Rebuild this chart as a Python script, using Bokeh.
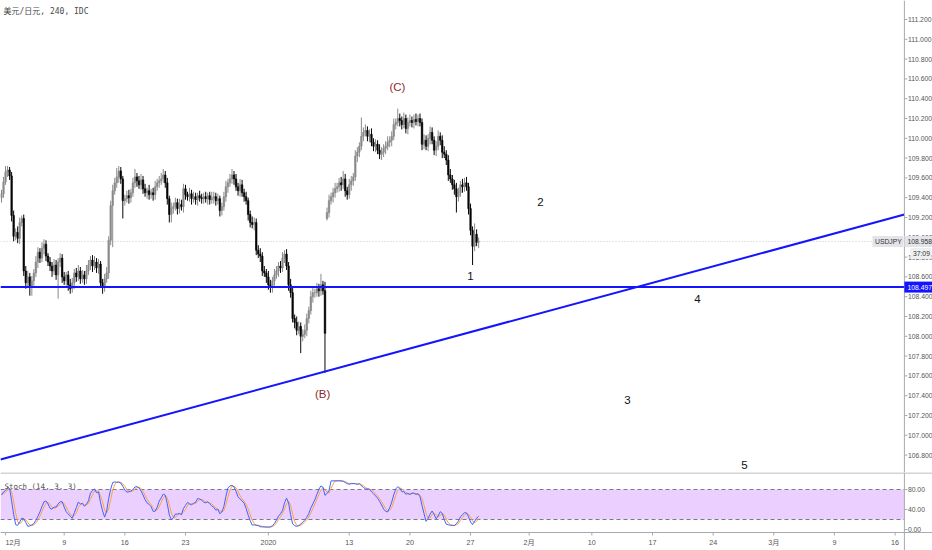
import pandas as pd
from bokeh.plotting import figure
from bokeh.models import Range1d, ColumnDataSource
from bokeh.layouts import column
from bokeh.core.properties import value
from bokeh.embed import file_html
from bokeh.resources import INLINE

# ---------------- data (USDJPY, 4h bars) ----------------
closes = [
    109.44, 109.56, 109.66, 109.68, 109.62, 109.22, 109.01, 109.05, 108.99, 109.15,
    109.19, 108.66, 108.54, 108.60, 108.50, 108.56, 108.64, 108.75, 108.85, 108.79,
    108.89, 108.93, 108.81, 108.75, 108.71, 108.66, 108.72, 108.62, 108.75, 108.79,
    108.60, 108.56, 108.62, 108.52, 108.48, 108.54, 108.64, 108.60, 108.66, 108.58,
    108.62, 108.58, 108.66, 108.72, 108.77, 108.71, 108.75, 108.69, 108.73, 108.54,
    108.50, 108.58, 108.64, 108.97, 109.32, 109.47, 109.55, 109.61, 109.67, 109.59,
    109.37, 109.39, 109.42, 109.40, 109.45, 109.55, 109.61, 109.57, 109.53, 109.58,
    109.49, 109.45, 109.47, 109.43, 109.45, 109.43, 109.51, 109.55, 109.57, 109.59,
    109.63, 109.55, 109.39, 109.23, 109.29, 109.31, 109.35, 109.29, 109.33, 109.31,
    109.49, 109.43, 109.41, 109.44, 109.39, 109.41, 109.38, 109.42, 109.40, 109.39,
    109.41, 109.39, 109.42, 109.38, 109.40, 109.41, 109.37, 109.39, 109.27, 109.31,
    109.41, 109.51, 109.55, 109.59, 109.63, 109.59, 109.51, 109.47, 109.53, 109.45,
    109.41, 109.37, 109.23, 109.15, 109.13, 109.15, 108.87, 108.83, 108.81, 108.66,
    108.64, 108.60, 108.52, 108.50, 108.56, 108.62, 108.66, 108.71, 108.69, 108.79,
    108.83, 108.71, 108.52, 108.44, 108.18, 108.14, 108.06, 108.10, 108.00, 108.02,
    108.06, 108.18, 108.26, 108.40, 108.44, 108.44, 108.48, 108.46, 108.52, 108.46,
    108.03, 109.25, 109.37, 109.41, 109.45, 109.49, 109.51, 109.55, 109.53, 109.59,
    109.47, 109.43, 109.53, 109.57, 109.61, 109.82, 109.86, 109.92, 110.02, 110.06,
    110.08, 110.02, 110.04, 109.96, 109.92, 109.94, 109.88, 109.84, 109.86, 109.90,
    109.92, 109.96, 109.98, 110.02, 110.14, 110.16, 110.20, 110.18, 110.14, 110.20,
    110.10, 110.16, 110.18, 110.16, 110.19, 110.17, 110.20, 110.16, 109.94, 109.98,
    109.92, 110.00, 110.06, 109.98, 109.88, 109.92, 110.02, 109.98, 109.86, 109.84,
    109.78, 109.63, 109.59, 109.53, 109.49, 109.41, 109.45, 109.53, 109.51, 109.55,
    109.51, 109.29, 109.07, 108.91, 109.03, 108.95, 108.958,
]
wick_up_pips = [
    4, 5, 6, 4, 3, 4, 5, 4, 6, 5,
    3, 4, 5, 6, 4, 5, 4, 6, 5, 4,
    6, 5, 4, 3, 5, 4, 6, 5, 4, 5,
    4, 5, 3, 4, 6, 5, 4, 5, 6, 4,
    5, 4, 6, 5, 4, 5, 6, 4, 5, 3,
    4, 5, 6, 4, 5, 6, 5, 9, 5, 4,
    3, 4, 5, 6, 4, 5, 8, 4, 5, 6,
    4, 5, 3, 6, 4, 5, 6, 4, 5, 6,
    6, 4, 5, 3, 6, 4, 5, 4, 6, 5,
    5, 4, 3, 6, 4, 5, 4, 3, 5, 4,
    4, 5, 3, 4, 6, 5, 4, 5, 3, 4,
    5, 6, 4, 5, 6, 4, 5, 4, 6, 5,
    4, 5, 3, 4, 6, 5, 4, 5, 6, 4,
    5, 4, 6, 5, 4, 6, 5, 4, 5, 6,
    4, 5, 4, 6, 5, 4, 6, 5, 4, 5,
    6, 5, 4, 6, 5, 4, 6, 5, 11, 4,
    9, 5, 6, 4, 5, 6, 4, 5, 6, 8,
    5, 4, 6, 5, 4, 6, 5, 4, 19, 5,
    6, 4, 5, 6, 4, 5, 4, 6, 5, 4,
    5, 6, 4, 5, 6, 4, 10, 5, 4, 6,
    4, 5, 6, 4, 5, 6, 4, 5, 4, 6,
    5, 4, 6, 5, 4, 5, 6, 4, 5, 6,
    4, 5, 6, 4, 5, 6, 5, 4, 6, 5,
    6, 4, 5, 4, 11, 5, 4,
]
wick_dn_pips = [
    5, 4, 3, 5, 4, 6, 5, 4, 5, 6,
    4, 5, 6, 5, 9, 9, 5, 4, 6, 5,
    4, 6, 5, 4, 5, 6, 4, 5, 24, 5,
    6, 4, 5, 6, 5, 4, 6, 5, 4, 5,
    4, 6, 5, 4, 5, 6, 4, 5, 6, 5,
    7, 5, 4, 6, 5, 42, 4, 5, 6, 5,
    18, 5, 4, 6, 5, 4, 5, 6, 4, 5,
    5, 4, 6, 5, 4, 6, 5, 4, 5, 4,
    4, 5, 6, 8, 8, 5, 4, 6, 5, 4,
    6, 5, 4, 5, 6, 4, 5, 6, 4, 5,
    5, 4, 6, 5, 4, 6, 5, 4, 6, 5,
    4, 5, 6, 4, 5, 6, 4, 5, 6, 4,
    5, 4, 6, 5, 4, 6, 5, 4, 6, 5,
    4, 6, 5, 6, 6, 5, 4, 6, 5, 4,
    5, 4, 6, 5, 4, 6, 5, 4, 17, 5,
    4, 6, 5, 4, 6, 5, 4, 6, 5, 4,
    40, 2, 5, 4, 6, 5, 4, 5, 6, 4,
    6, 5, 4, 6, 5, 4, 6, 5, 4, 5,
    4, 5, 6, 4, 5, 6, 4, 5, 6, 5,
    6, 4, 5, 6, 4, 5, 4, 6, 5, 4,
    5, 6, 4, 5, 6, 4, 5, 4, 6, 5,
    4, 5, 6, 4, 5, 6, 4, 5, 6, 4,
    5, 6, 4, 5, 6, 16, 5, 4, 6, 5,
    4, 6, 5, 19, 5, 4, 6,
]
first_open = 109.40
gap_opens = {161: 109.19}

price_ticks = [106.8, 107.0, 107.2, 107.4, 107.6, 107.8, 108.0, 108.2, 108.4, 108.6,
               108.8, 109.0, 109.2, 109.4, 109.6, 109.8, 110.0, 110.2, 110.4, 110.6,
               110.8, 111.0, 111.2]
stoch_ticks = [0, 40, 80]
stoch_levels = [20, 80]
date_tick_bars = [2, 31, 61, 91, 132, 172, 202, 232, 261, 292, 322, 352, 382, 412, 442]
date_tick_labels = ["12月", "9", "16", "23", "2020", "13", "20", "27", "2月", "10", "17",
                    "24", "3月", "9", "16"]

support_level = 108.497
trend_bars = [-0.5, 446.6]
trend_prices = [106.756, 109.230]

wave_text = ["(C)", "(B)", "1", "2", "3", "4", "5"]
wave_bar = [195.8, 158.8, 232.0, 266.6, 309.6, 344.2, 367.5]
wave_price = [110.523, 107.422, 108.604, 109.352, 107.352, 108.372, 106.695]
wave_kind = ["major", "major", "minor", "minor", "minor", "minor", "minor"]

countdown_text = "37:09"
symbol_text = "USDJPY"
title_text = "美元/日元, 240, IDC"
stoch_title = "Stoch (14, 3, 3)"
stoch_len, k_smooth, d_smooth = 14, 3, 3

# ---------------- derived candle fields ----------------
n = min(len(closes), len(wick_up_pips), len(wick_dn_pips))
closes = closes[:n]
bars = list(range(n))
opens = [first_open] + closes[:n - 1]
for k, v in gap_opens.items():
    if k < n:
        opens[k] = v
highs = [max(o, c) + u / 100 for o, c, u in zip(opens, closes, wick_up_pips)]
lows = [min(o, c) - d / 100 for o, c, d in zip(opens, closes, wick_dn_pips)]
UP_COL, DN_COL = "#8a8a8a", "#050505"
colors = [UP_COL if c >= o else DN_COL for o, c in zip(opens, closes)]
src = ColumnDataSource(dict(
    x=bars, h=highs, l=lows,
    top=[max(o, c) for o, c in zip(opens, closes)],
    bottom=[min(o, c) for o, c in zip(opens, closes)],
    color=colors,
))

# stochastic (14,3,3) from the candles
hs, ls, cs = pd.Series(highs), pd.Series(lows), pd.Series(closes)
hh = hs.rolling(stoch_len, min_periods=1).max()
ll = ls.rolling(stoch_len, min_periods=1).min()
raw = 100 * (cs - ll) / (hh - ll)
k_line = raw.rolling(k_smooth, min_periods=1).mean()
d_line = k_line.rolling(d_smooth, min_periods=1).mean()

# ---------------- layout constants (pixels -> data units) ----------------
W = 932
PX_PER_BAR = 2.0217
X0, X1 = -0.5, -0.5 + W / PX_PER_BAR          # full canvas width in bar units
AXIS_X = 446.6                                 # right price-scale line
PX = 1 / PX_PER_BAR                            # one pixel in bar units
AX_COL = "#a6a9b1"
LBL_COL = "#555555"
FONT = "Liberation Sans"
LBL_SIZE = "6.8px"

# ---------------- price pane ----------------
PH = 472
p_lo, p_hi = 106.624, 111.392
PPX = (p_hi - p_lo) / PH                       # one pixel in price units
p = figure(width=W, height=PH, x_range=Range1d(X0, X1), y_range=Range1d(p_lo, p_hi),
           output_backend="svg", toolbar_location=None, x_axis_location=None,
           y_axis_location=None, min_border=0)
p.grid.visible = False
p.outline_line_color = None

last_price = closes[-1]
# last price dotted line
p.segment(x0=[X0], y0=[last_price], x1=[AXIS_X], y1=[last_price], line_color="#c8cad0",
          line_width=1, line_dash="1 2")

# candles
p.segment(x0="x", y0="l", x1="x", y1="h", line_color="color", line_width=1, source=src)
p.vbar(x="x", width=0.75, top="top", bottom="bottom", fill_color="color",
       line_color="color", line_width=0.6, source=src)

# drawings
BLUE = "#1414ff"
p.segment(x0=[X0], y0=[support_level], x1=[AXIS_X], y1=[support_level],
          line_color=BLUE, line_width=2)
p.line(trend_bars, trend_prices, line_color=BLUE, line_width=2)

wave_src = ColumnDataSource(dict(
    x=wave_bar, y=wave_price, t=wave_text,
    c=["#8e2a2a" if k == "major" else "#111111" for k in wave_kind],
))
p.text(x="x", y="y", text="t", text_color="c", source=wave_src, text_align="center",
       text_baseline="middle", text_font=value(FONT), text_font_size="11.5px")

# title
p.text(x=[X0 + 3 * PX], y=[p_hi - 11 * PPX], text=[title_text], text_font_size="8px",
       text_color="#4a4a4a", text_baseline="middle", text_align="left",
       text_font=value("DejaVu Sans Mono, Noto Sans CJK SC"))

# right price scale (drawn inside the canvas)
p.segment(x0=[AXIS_X], y0=[p_lo], x1=[AXIS_X], y1=[p_hi], line_color=AX_COL, line_width=1)
p.segment(x0=[AXIS_X] * len(price_ticks), y0=price_ticks,
          x1=[AXIS_X + 3 * PX] * len(price_ticks), y1=price_ticks,
          line_color=AX_COL, line_width=1)
p.text(x=[AXIS_X + 3.5 * PX] * len(price_ticks), y=price_ticks,
       text=[f"{t:.3f}" for t in price_ticks], text_font_size=LBL_SIZE,
       text_color=LBL_COL, text_baseline="middle", text_align="left",
       text_font=value(FONT))

# price tags
tag_h = 5.5 * PPX
p.quad(left=[AXIS_X], right=[X1], bottom=[support_level - tag_h], top=[support_level + tag_h],
       fill_color=BLUE, line_color=None)
p.text(x=[AXIS_X + 3.0 * PX], y=[support_level], text=[f"{support_level:.3f}"],
       text_font_size=LBL_SIZE, text_color="white", text_baseline="middle",
       text_align="left", text_font=value(FONT))

sym_left = AXIS_X - 32 * PX
p.quad(left=[sym_left, AXIS_X], right=[AXIS_X - 1 * PX, X1],
       bottom=[last_price - tag_h] * 2, top=[last_price + tag_h] * 2,
       fill_color="#e3e4e8", line_color=None)
p.text(x=[(sym_left + AXIS_X) / 2], y=[last_price], text=[symbol_text],
       text_font_size=LBL_SIZE, text_color="#333333", text_baseline="middle",
       text_align="center", text_font=value(FONT))
p.text(x=[AXIS_X + 3.0 * PX], y=[last_price], text=[f"{last_price:.3f}"],
       text_font_size=LBL_SIZE, text_color="#333333", text_baseline="middle",
       text_align="left", text_font=value(FONT))
cd_y = last_price - 2 * tag_h - 1 * PPX
p.quad(left=[AXIS_X + 6 * PX], right=[X1 - 1 * PX], bottom=[cd_y - tag_h], top=[cd_y + tag_h],
       fill_color="#eeeff2", line_color=None)
p.text(x=[AXIS_X + 8.5 * PX], y=[cd_y], text=[countdown_text],
       text_font_size=LBL_SIZE, text_color="#333333", text_baseline="middle",
       text_align="left", text_font=value(FONT))

# ---------------- stochastic pane (with date scale) ----------------
SH = 550 - PH
s_hi = 114.0
SPX = 0.5                                        # pixels per stoch unit
s_lo = s_hi - SH / SPX
pane_bottom = s_hi - 60 / SPX                    # -6
s = figure(width=W, height=SH, x_range=p.x_range, y_range=Range1d(s_lo, s_hi),
           output_backend="svg", toolbar_location=None, x_axis_location=None,
           y_axis_location=None, min_border=0)
s.grid.visible = False
s.outline_line_color = None
SU = 1 / SPX                                     # one pixel in stoch units

s.quad(left=[X0], right=[AXIS_X], bottom=[stoch_levels[0]], top=[stoch_levels[1]],
       fill_color="#9915ff", fill_alpha=0.2, line_color=None)
s.segment(x0=[X0] * 2, y0=stoch_levels, x1=[AXIS_X] * 2, y1=stoch_levels,
          line_color="#787b86", line_width=1, line_dash="4 3")
s.line(bars, list(d_line), line_color="#ffa040", line_width=1)
s.line(bars, list(k_line), line_color="#3d63ff", line_width=1)
s.text(x=[X0 + 4 * PX], y=[s_hi - 14 * SU], text=[stoch_title], text_font_size="7.5px",
       text_color="#555555", text_baseline="middle", text_align="left",
       text_font=value("DejaVu Sans Mono"))

# pane separators
s.segment(x0=[X0, X0], y0=[s_hi - 0.5 * SU, pane_bottom], x1=[X1, X1],
          y1=[s_hi - 0.5 * SU, pane_bottom], line_color=AX_COL, line_width=1)
s.segment(x0=[AXIS_X], y0=[s_lo], x1=[AXIS_X], y1=[s_hi], line_color=AX_COL, line_width=1)
# stoch scale
s.segment(x0=[AXIS_X] * 3, y0=stoch_ticks, x1=[AXIS_X + 3 * PX] * 3, y1=stoch_ticks,
          line_color=AX_COL, line_width=1)
s.text(x=[AXIS_X + 3.5 * PX] * 3, y=stoch_ticks, text=[f"{t:.2f}" for t in stoch_ticks],
       text_font_size=LBL_SIZE, text_color=LBL_COL, text_baseline="middle",
       text_align="left", text_font=value(FONT))
# date scale (first label kept inside the canvas instead of being cut at the edge)
s.segment(x0=date_tick_bars, y0=[pane_bottom] * len(date_tick_bars), x1=date_tick_bars,
          y1=[pane_bottom - 3 * SU] * len(date_tick_bars), line_color=AX_COL, line_width=1)
lbl_x = [max(b, X0 + 1 * PX) for b in date_tick_bars]
lbl_align = ["left" if i == 0 else "center" for i in range(len(date_tick_bars))]
s.text(x=lbl_x, y=[pane_bottom - 10 * SU] * len(date_tick_bars),
       text=date_tick_labels, text_align=lbl_align, text_font_size="7.2px",
       text_color=LBL_COL, text_baseline="middle",
       text_font=value("Liberation Sans, Noto Sans CJK SC"))

layout = column(p, s, spacing=0)
open("out.html", "w").write(file_html(layout, INLINE))
